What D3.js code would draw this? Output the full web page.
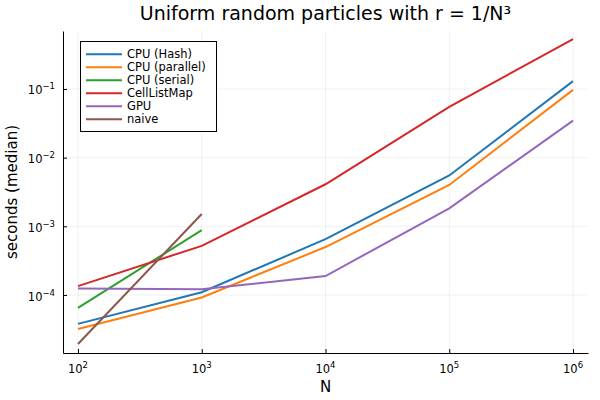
<!DOCTYPE html>
<html>
<head>
<meta charset="utf-8">
<script src="https://cdn.jsdelivr.net/npm/d3@7"></script>
<style>
  body { margin: 0; background: #fff; }
  text { font-family: "DejaVu Sans", sans-serif; fill: #000; }
</style>
</head>
<body>
<div id="chart"></div>
<script>
// data
var Ns = [1e2, 1e3, 1e4, 1e5, 1e6];
var cpuHash     = [3.8e-5, 1.1e-4, 6.5e-4, 5.5e-3, 0.13];
var cpuParallel = [3.2e-5, 9.2e-5, 5.0e-4, 4.0e-3, 0.097];
var cpuSerial   = [6.5e-5, 8.8e-4];
var cellListMap = [1.35e-4, 5.2e-4, 4.1e-3, 0.055, 0.53];
var gpu         = [1.24e-4, 1.21e-4, 1.89e-4, 1.83e-3, 0.0346];
var naive       = [1.94e-5, 1.51e-3];
var seriesNames = ["CPU (Hash)", "CPU (parallel)", "CPU (serial)", "CellListMap", "GPU", "naive"];
var colors = ["#1f77b4", "#ff7f0e", "#2ca02c", "#d62728", "#9467bd", "#8c564b"];
var xTicks = [1e2, 1e3, 1e4, 1e5, 1e6];
var yTicks = [1e-4, 1e-3, 1e-2, 1e-1];

var series = [cpuHash, cpuParallel, cpuSerial, cellListMap, gpu, naive];

var W = 600, H = 400;
var pLeft = 63, pRight = 588, pTop = 31, pBottom = 353;

var svg = d3.select("#chart").append("svg")
    .attr("width", W).attr("height", H);

var x = d3.scaleLog().domain([Math.pow(10, 1.879), Math.pow(10, 6.121)]).range([pLeft, pRight]);
var y = d3.scaleLog().domain([Math.pow(10, -4.844), Math.pow(10, -0.156)]).range([pBottom, pTop]);

// grid
svg.append("g").selectAll("line").data(xTicks).join("line")
    .attr("x1", d => x(d)).attr("x2", d => x(d))
    .attr("y1", pTop).attr("y2", pBottom)
    .attr("stroke", "#000").attr("stroke-opacity", 0.1).attr("stroke-width", 0.6);
svg.append("g").selectAll("line").data(yTicks).join("line")
    .attr("x1", pLeft).attr("x2", pRight)
    .attr("y1", d => y(d)).attr("y2", d => y(d))
    .attr("stroke", "#000").attr("stroke-opacity", 0.1).attr("stroke-width", 0.6);

// axes (ticks point inward)
var xAxis = svg.append("g").attr("transform", "translate(0," + pBottom + ")")
    .call(d3.axisBottom(x).tickValues(xTicks).tickSize(-4).tickSizeOuter(0).tickFormat(""));
var yAxis = svg.append("g").attr("transform", "translate(" + pLeft + ",0)")
    .call(d3.axisLeft(y).tickValues(yTicks).tickSize(-4).tickSizeOuter(0).tickFormat(""));
[xAxis, yAxis].forEach(function(a) {
  a.select(".domain").attr("stroke", "#000").attr("stroke-width", 1);
  a.selectAll(".tick line").attr("stroke", "#000").attr("stroke-width", 1);
});

// tick labels as 10^k
xTicks.forEach(function(t) {
  var tx = svg.append("text").attr("x", x(t)).attr("y", pBottom + 20)
      .attr("text-anchor", "middle").attr("font-size", 11.5);
  tx.append("tspan").text("10");
  tx.append("tspan").attr("dy", -5).attr("font-size", 8.5).text(Math.round(Math.log10(t)));
});
yTicks.forEach(function(t) {
  var ty = svg.append("text").attr("x", pLeft - 8).attr("y", y(t) + 5.5)
      .attr("text-anchor", "end").attr("font-size", 11.5);
  ty.append("tspan").text("10");
  ty.append("tspan").attr("dy", -5).attr("font-size", 8.5).text("\u2212" + Math.abs(Math.round(Math.log10(t))));
});

// lines
var line = d3.line().x(d => x(d[0])).y(d => y(d[1]));
series.forEach(function(s, i) {
  svg.append("path")
      .datum(s.map((v, j) => [Ns[j], v]))
      .attr("fill", "none")
      .attr("stroke", colors[i])
      .attr("stroke-width", 2)
      .attr("d", line);
});

// title and axis labels
svg.append("text").attr("x", (pLeft + pRight) / 2).attr("y", 20)
    .attr("text-anchor", "middle").attr("font-size", 19)
    .text("Uniform random particles with r = 1/N\u00b3");
svg.append("text").attr("x", (pLeft + pRight) / 2).attr("y", 392)
    .attr("text-anchor", "middle").attr("font-size", 15).text("N");
svg.append("text").attr("transform", "translate(17," + ((pTop + pBottom) / 2) + ") rotate(-90)")
    .attr("text-anchor", "middle").attr("font-size", 15).text("seconds (median)");

// legend
var lg = svg.append("g");
lg.append("rect").attr("x", 80.5).attr("y", 41.5).attr("width", 136).attr("height", 90)
    .attr("fill", "#fff").attr("stroke", "#000").attr("stroke-width", 1);
seriesNames.forEach(function(n, i) {
  var ly = 54.3 + i * 13;
  lg.append("line").attr("x1", 86).attr("x2", 122).attr("y1", ly).attr("y2", ly)
      .attr("stroke", colors[i]).attr("stroke-width", 2);
  lg.append("text").attr("x", 127).attr("y", ly + 4).attr("font-size", 11.5).text(n);
});
</script>
</body>
</html>
